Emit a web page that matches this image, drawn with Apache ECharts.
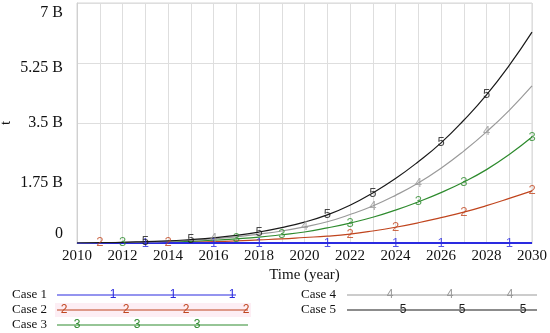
<!DOCTYPE html>
<html>
<head>
<meta charset="utf-8">
<style>html,body{margin:0;padding:0;background:#fff}#c{width:550px;height:333px}</style>
<script src="https://cdn.jsdelivr.net/npm/echarts@6/dist/echarts.min.js"></script>
</head>
<body>
<div id="c"></div>
<script>
// ---- data (values in billions) ----
var years = [2010,2011,2012,2013,2014,2015,2016,2017,2018,2019,2020,2021,2022,2023,2024,2025,2026,2027,2028,2029,2030];
var case1 = [0,0,0,0,0,0,0,0,0,0,0,0,0,0,0,0,0,0,0,0,0];
var case2 = [0,0.003,0.006,0.01,0.02,0.03,0.04,0.06,0.09,0.12,0.16,0.2,0.26,0.35,0.46,0.59,0.74,0.9,1.09,1.3,1.52];
var case3 = [0,0.005,0.01,0.02,0.03,0.05,0.08,0.12,0.17,0.24,0.32,0.44,0.58,0.75,0.96,1.2,1.47,1.78,2.14,2.58,3.09];
var case4 = [0,0.01,0.02,0.03,0.05,0.08,0.12,0.18,0.26,0.35,0.47,0.62,0.83,1.08,1.39,1.75,2.18,2.68,3.24,3.87,4.58];
var case5 = [0,0.01,0.02,0.04,0.06,0.1,0.15,0.22,0.32,0.45,0.61,0.82,1.1,1.46,1.88,2.37,2.92,3.58,4.32,5.18,6.15];
var markerYears1 = [2013,2016,2018,2021,2024,2026,2029];
var markerYears2 = [2011,2014,2022,2024,2027,2030];
var markerYears3 = [2012,2017,2019,2022,2025,2027,2030];
var markerYears4 = [2016,2020,2023,2025,2028];
var markerYears5 = [2013,2015,2018,2021,2023,2026,2028];
var caseNames = ['Case 1','Case 2','Case 3','Case 4','Case 5'];
var yTicks = [0,1.75,3.5,5.25,7];

var colors = ['#2a2ae0','#c0451e','#2e8b2e','#9a9a9a','#1a1a1a'];
var allData = [case1,case2,case3,case4,case5];
var allMarkers = [markerYears1,markerYears2,markerYears3,markerYears4,markerYears5];
var FONT = '"Liberation Serif", "Times New Roman", serif';
var MFONT = '"Liberation Sans", Arial, sans-serif';

var series = [];
allData.forEach(function(d,i){
  series.push({
    type:'line', name:caseNames[i], smooth:true, showSymbol:false, z: i===0?6:3+i,
    lineStyle:{color:colors[i], width: i===0?2.2:1.2},
    data: years.map(function(y,k){return [y, d[k]*1e9];})
  });
  series.push({
    type:'scatter', name:caseNames[i]+' m', symbolSize:0, z:10,
    label:{show:true, position:'inside', formatter:String(i+1), color:colors[i], fontSize:13, fontFamily:MFONT},
    data: allMarkers[i].map(function(y){return [y, d[years.indexOf(y)]*1e9];})
  });
});

var chart = echarts.init(document.getElementById('c'));
var legendGraphics = [];
var legendPos = [
  {tx:12, lx1:57, lx2:236, y:295, marks:[113,173,232]},
  {tx:12, lx1:57, lx2:248, y:310, marks:[64,126,186,246]},
  {tx:12, lx1:57, lx2:248, y:325, marks:[77,137,197]},
  {tx:301, lx1:347, lx2:537, y:295, marks:[390,450,510]},
  {tx:301, lx1:347, lx2:537, y:310, marks:[403,462,523]}
];
legendGraphics.push({type:'rect', shape:{x:55,y:303,width:196,height:14}, style:{fill:'#fdeef4'}});
legendPos.forEach(function(p,i){
  legendGraphics.push({type:'text', x:p.tx, y:p.y, style:{text:caseNames[i], font:'13px '+FONT, fill:'#111', verticalAlign:'middle'}});
  legendGraphics.push({type:'line', shape:{x1:p.lx1,y1:p.y,x2:p.lx2,y2:p.y}, style:{stroke:colors[i], lineWidth:1.2}});
  p.marks.forEach(function(mx){
    legendGraphics.push({type:'text', x:mx, y:p.y, style:{text:String(i+1), font:'12px '+MFONT, fill:colors[i], align:'center', verticalAlign:'middle'}});
  });
});

chart.setOption({
  animation:false,
  backgroundColor:'#fff',
  grid:{left:77, right:18, top:3, bottom:90, show:true, borderColor:'#d6d6d6', borderWidth:1, outerBoundsMode:'none', containLabel:false},
  xAxis:{
    type:'value', min:2010, max:2030, interval:1,
    name:'Time (year)', nameLocation:'middle', nameGap:25, nameMoveOverlap:false,
    nameTextStyle:{fontFamily:FONT, fontSize:15, color:'#111'},
    axisLine:{show:true, lineStyle:{color:'#bbb'}}, axisTick:{show:false},
    axisLabel:{margin:6, fontFamily:FONT, fontSize:15, color:'#111',
      formatter:function(v){return v%2===0?String(v):'';}},
    splitLine:{show:true, lineStyle:{color:'#dedede', width:1}}
  },
  yAxis:{
    type:'value', min:0, max:7e9, interval:1.75e9,
    name:'t', nameLocation:'middle', nameGap:63, nameRotate:90, nameMoveOverlap:false,
    nameTextStyle:{fontFamily:FONT, fontSize:15, color:'#111'},
    axisLine:{show:true, lineStyle:{color:'#d0d0d0'}}, axisTick:{show:false},
    axisLabel:{margin:14, fontFamily:FONT, fontSize:16, color:'#111',
      formatter:function(v){
        var b = v/1e9;
        if (b===0) return '{d0|0}';
        if (b===7) return '{d7|7 B}';
        if (b===5.25) return '{d5|5.25 B}';
        return b+' B';
      },
      rich:{
        d0:{lineHeight:34, verticalAlign:'top', fontFamily:FONT, fontSize:16, color:'#111'},
        d7:{lineHeight:36, verticalAlign:'bottom', fontFamily:FONT, fontSize:16, color:'#111'},
        d5:{lineHeight:26, verticalAlign:'bottom', fontFamily:FONT, fontSize:16, color:'#111'}
      }
    },
    splitLine:{show:true, lineStyle:{color:'#dedede', width:1}}
  },
  series: series,
  graphic: legendGraphics
});
</script>
</body>
</html>
